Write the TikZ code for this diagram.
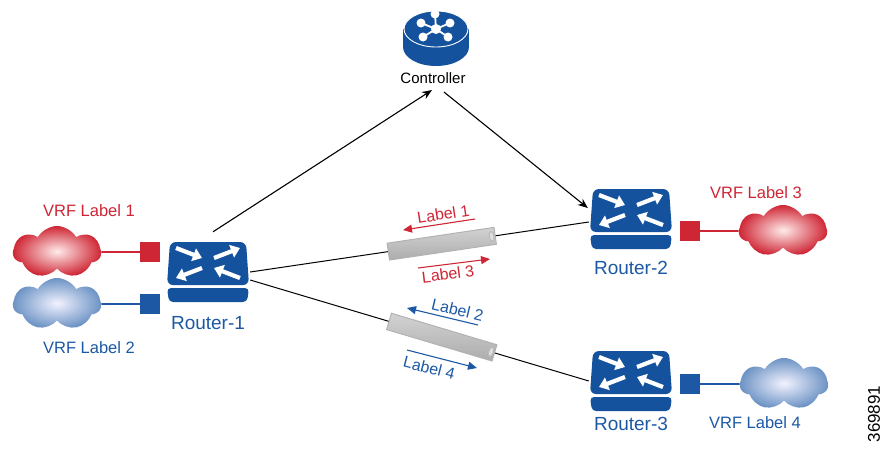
\documentclass[tikz,border=0pt]{standalone}
\usepackage{fontspec}
\setmainfont{Liberation Sans}
\usetikzlibrary{arrows.meta,shapes.symbols,shapes.geometric}
\definecolor{vrfred}{RGB}{206,38,52}
\definecolor{vrfblue}{RGB}{28,88,164}
\definecolor{iconblue}{RGB}{20,82,158}
\tikzset{link/.style={line width=1pt}}
\tikzset{ctrlarrow/.style={-{Stealth[length=10pt,width=8pt]},line width=1.1pt}}
\tikzset{lblarrow/.style={-{Triangle[length=9pt,width=8pt]},line width=1.1pt}}
\tikzset{vrfline/.style={line width=1.6pt}}
\tikzset{port/.style={minimum size=20pt,inner sep=0pt}}
\tikzset{vrfcloud/.style={cloud,cloud puffs=7,cloud puff arc=120,aspect=1.8,minimum width=88pt,minimum height=52pt,inner sep=0pt}}
\tikzset{tube/.style={cylinder,sloped,shape aspect=0.6,minimum height=108pt,minimum width=17pt,inner sep=0pt,draw=gray!60,top color=gray!35,middle color=gray!3,bottom color=gray!65}}
\tikzset{tubeend/.style={ellipse,sloped,minimum width=4.5pt,minimum height=10pt,inner sep=0pt,draw=gray!55,fill=gray!25}}
\tikzset{routerlbl/.style={text=vrfblue,font=\fontsize{19}{22}\selectfont}}
\tikzset{vrflbl/.style={font=\fontsize{16.5}{20}\selectfont}}
\tikzset{lbl/.style={font=\fontsize{16}{19}\selectfont}}
\tikzset{wedge/.style={white,line width=4.2pt,-{Triangle[length=9pt,width=13pt]}}}
\tikzset{router/.pic={
  \fill[iconblue,rounded corners=6pt] (-38,-30) -- (38,-30) -- (41,13) -- (-41,13) -- cycle;
  \fill[iconblue,rounded corners=4pt] (-41,16) -- (41,16) -- (39,30) -- (-39,30) -- cycle;
  \foreach \sx in {-1,1} {
    \draw[wedge] (-32*\sx,-15*\sx-9) -- (-6*\sx,-5*\sx-9);
    \draw[wedge] (6*\sx,-5*\sx-9) -- (32*\sx,-15*\sx-9);
  }
  \node[minimum width=84pt,minimum height=62pt,inner sep=0pt] (-box) {};
}}
\tikzset{controller/.pic={
  \fill[iconblue] (0,10) ellipse[x radius=33,y radius=19];
  \fill[iconblue] (-33,-8) rectangle (33,10);
  \filldraw[iconblue,draw=white,line width=0.9pt] (0,-8) ellipse[x radius=32,y radius=18];
  \foreach \dx/\dy in {-1/-15,-15/-6,14/-6,-13/8,12/8} {
    \draw[white,line width=1.8pt] (0,-8) -- ++(\dx,\dy);
    \fill[white] (0,-8) ++(\dx,\dy) circle[radius=4.5];
  }
  \fill[white] (0,-8) circle[radius=5];
  \node[minimum width=66pt,minimum height=56pt,inner sep=0pt] (-box) {};
}}

\begin{document}
\begin{tikzpicture}[x=1pt,y=-1pt]
  \useasboundingbox (0,0) rectangle (882,453);
  \pic (ctrl) at (436,37) {controller};
  \node[font=\fontsize{15}{18}\selectfont] (ctrllbl) at (433,78) {Controller};
  \pic (r1) at (208,272) {router};
  \pic (r2) at (631,219) {router};
  \pic (r3) at (631,381) {router};
  \node[routerlbl] (r1lbl) at (208,323) {Router-1};
  \node[routerlbl] (r2lbl) at (631,268) {Router-2};
  \node[routerlbl] (r3lbl) at (631,424) {Router-3};
  \node[vrfcloud,inner color=red!8,outer color=vrfred] (cloud1) at (57,252) {};
  \node[vrfcloud,inner color=blue!5,outer color=vrfblue!65] (cloud2) at (57,304) {};
  \node[vrfcloud,inner color=red!8,outer color=vrfred] (cloud3) at (783,231) {};
  \node[vrfcloud,inner color=blue!5,outer color=vrfblue!65] (cloud4) at (784,384) {};
  \node[port,fill=vrfred] (port1) at (150,252) {};
  \node[port,fill=vrfblue] (port2) at (150,304) {};
  \node[port,fill=vrfred] (port3) at (690,231) {};
  \node[port,fill=vrfblue] (port4) at (690,384) {};
  \draw[vrfline,vrfred] (cloud1) -- (port1);
  \draw[vrfline,vrfblue] (cloud2) -- (port2);
  \draw[vrfline,vrfred] (port3) -- (cloud3);
  \draw[vrfline,vrfblue] (port4) -- (cloud4);
  \node[vrflbl,text=vrfred] (vrf1) at (89,211) {VRF Label 1};
  \node[vrflbl,text=vrfblue] (vrf2) at (89,348) {VRF Label 2};
  \node[vrflbl,text=vrfred] (vrf3) at (756,193) {VRF Label 3};
  \node[vrflbl,text=vrfblue] (vrf4) at (755,423) {VRF Label 4};
  \node[rotate=90,font=\fontsize{17}{20}\selectfont] (fignum) at (874,414) {369891};
  \draw[ctrlarrow] ([xshift=5pt,yshift=9pt]r1-box.north) -- ([xshift=-1pt,yshift=-3pt]ctrllbl.south);
  \draw[ctrlarrow] ([xshift=11pt,yshift=-5pt]ctrllbl.south) -- ([xshift=-1pt,yshift=11pt]r2-box.west);
  \draw[link] (r1-box.east) -- node[tube,pos=0.565] (tube1) {} node[tubeend,pos=0.713] (hole1) {} ([yshift=-3pt]r2-box.west);
  \draw[link] ([yshift=-8pt]r1-box.east) -- node[tube,pos=0.565,minimum height=110pt] (tube2) {} node[tubeend,pos=0.711] (hole2) {} (r3-box.west);
  \coordinate (l1s) at (475,219);
  \coordinate (l1e) at (403,230);
  \coordinate (l3s) at (418,268);
  \coordinate (l3e) at (490,259);
  \coordinate (l2s) at (478,325);
  \coordinate (l2e) at (407,308);
  \coordinate (l4s) at (407,350);
  \coordinate (l4e) at (477,368);
  \draw[lblarrow,vrfred] (l1s) -- node[lbl,sloped,above,pos=0.42] {Label 1} (l1e);
  \draw[lblarrow,vrfred] (l3s) -- node[lbl,sloped,below,pos=0.4] {Label 3} (l3e);
  \draw[lblarrow,vrfblue] (l2s) -- node[lbl,sloped,above,pos=0.32] {Label 2} (l2e);
  \draw[lblarrow,vrfblue] (l4s) -- node[lbl,sloped,below=2pt,pos=0.36] {Label 4} (l4e);
\end{tikzpicture}
\end{document}
